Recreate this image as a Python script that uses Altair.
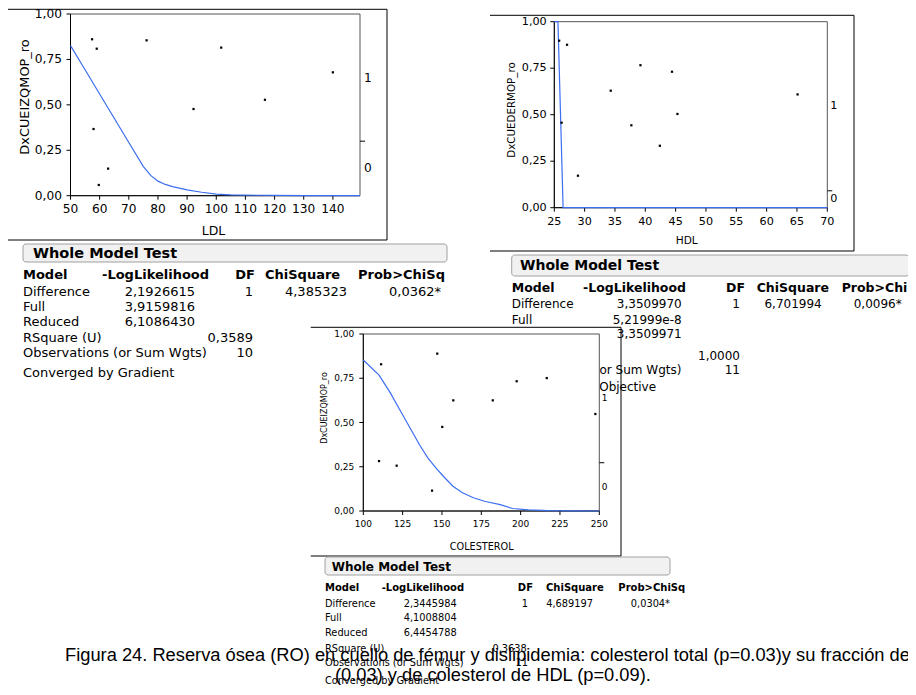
import altair as alt
import pandas as pd

# ---------------- data ----------------
# Panel 1: LDL vs DxCUEIZQMOP_ro
ldl_x = [57.4, 59.0, 57.9, 59.7, 62.9, 76.1, 92.2, 101.7, 116.7, 140.0]
ldl_y = [0.861, 0.809, 0.367, 0.059, 0.149, 0.855, 0.477, 0.815, 0.528, 0.679]
ldl_fit_x = [50, 55, 60, 65, 70, 75, 77.5, 80, 82.5, 85, 90, 95, 100, 105, 110, 120, 130, 149.3]
ldl_fit_y = [0.826, 0.693, 0.560, 0.426, 0.293, 0.160, 0.112, 0.080, 0.062, 0.050, 0.032,
             0.019, 0.009, 0.005, 0.003, 0.0015, 0.0005, 0.0]
ldl_counts = [3, 7]          # responses 0 / 1
ldl_xticks = [50, 60, 70, 80, 90, 100, 110, 120, 130, 140]

# Panel 2: HDL vs DxCUEDERMOP_ro
hdl_x = [25.8, 27.1, 26.2, 28.9, 34.3, 37.7, 39.2, 42.4, 44.4, 45.3, 65.1]
hdl_y = [0.898, 0.876, 0.457, 0.172, 0.629, 0.443, 0.766, 0.333, 0.731, 0.504, 0.609]
hdl_fit_x = [25, 25.6, 26.45, 70]
hdl_fit_y = [1.0, 1.0, 0.0, 0.0]
hdl_counts = [1, 10]
hdl_xticks = [25, 30, 35, 40, 45, 50, 55, 60, 65, 70]

# Panel 3: COLESTEROL vs DxCUEIZQMOP_ro
col_x = [111.3, 147.0, 110.0, 121.2, 143.7, 150.2, 157.2, 182.3, 197.5, 216.6, 247.5]
col_y = [0.829, 0.889, 0.282, 0.256, 0.115, 0.475, 0.625, 0.625, 0.733, 0.751, 0.548]
col_fit_x = [100, 110, 117, 123, 130, 136, 141, 146, 151, 157, 163, 170, 177, 187, 195, 205, 218, 235, 250]
col_fit_y = [0.853, 0.768, 0.670, 0.575, 0.465, 0.370, 0.300, 0.245, 0.195, 0.140, 0.103,
             0.075, 0.055, 0.036, 0.014, 0.006, 0.002, 0.0005, 0.0]
col_counts = [3, 8]
col_xticks = [100, 125, 150, 175, 200, 225, 250]

y_ticks = [0, 0.25, 0.5, 0.75, 1.0]

# Whole Model Test tables
head_cols = ["Model", "-LogLikelihood", "DF", "ChiSquare", "Prob>ChiSq"]
row_labels = ["Difference", "Full", "Reduced", "RSquare (U)", "Observations (or Sum Wgts)"]
tabA_ll = ["2,1926615", "3,9159816", "6,1086430"]
tabA_stats = ["1", "4,385323", "0,0362*", "0,3589", "10", "Converged by Gradient"]
tabB_ll = ["3,3509970", "5,21999e-8", "3,3509971"]
tabB_stats = ["1", "6,701994", "0,0096*", "1,0000", "11", "Converged by Objective"]
tabC_ll = ["2,3445984", "4,1008804", "6,4454788"]
tabC_stats = ["1", "4,689197", "0,0304*", "0,3638", "11", "Converged by Gradient"]
table_title = "Whole Model Test"

caption_1 = ("Figura 24. Reserva ósea (RO) en cuello de fémur y dislipidemia: colesterol total  "
             "(p=0.03)y su fracción de LDL")
caption_2 = "(0.03) y de colesterol de HDL (p=0.09)."

# ---------------- layout helpers ----------------
FONT = "DejaVu Sans"
BLUE = "#3b6ef0"
W, H = 900, 679
M = 8


def c(v):
    return v - M


blank = pd.DataFrame({"k": [0]})


def hline(x1, x2, y, color="black", w=1.0):
    return alt.Chart(blank).mark_rule(color=color, strokeWidth=w).encode(
        x=alt.value(c(x1)), x2=alt.value(c(x2)), y=alt.value(c(y)))


def vline(x, y1, y2, color="black", w=1.0):
    return alt.Chart(blank).mark_rule(color=color, strokeWidth=w).encode(
        x=alt.value(c(x)), y=alt.value(c(y1)), y2=alt.value(c(y2)))


def box(x1, x2, y1, y2, **kw):
    return alt.Chart(blank).mark_rect(**kw).encode(
        x=alt.value(c(x1)), x2=alt.value(c(x2)), y=alt.value(c(y1)), y2=alt.value(c(y2)))


def texts(items, align, size, bold=False, font=FONT, baseline="middle", angle=0):
    df = pd.DataFrame({"t": [i[0] for i in items],
                       "x": [c(i[1]) for i in items],
                       "y": [c(i[2]) for i in items]})
    return alt.Chart(df).mark_text(
        align=align, baseline=baseline, font=font, fontSize=size, angle=angle,
        fontWeight="bold" if bold else "normal", color="black").encode(
        x=alt.X("x:Q", scale=None, axis=None),
        y=alt.Y("y:Q", scale=None, axis=None),
        text="t:N")


def panel(px_, py_, fx, fy, counts, xdom, xticks, frame, xtitle, ytitle,
          xt_pos, yt_pos, lab_fs, xt_fs, yt_fs, r_dx, xlab_dy, ylab_dx, tick=4):
    L, R, T, B = [c(v) for v in frame]
    xsc = alt.Scale(domain=xdom, range=[L, R], nice=False, zero=False)
    ysc = alt.Scale(domain=[0, 1], range=[B, T], nice=False, zero=False)
    X0 = alt.XDatum(xdom[0], scale=xsc, axis=None)
    X1 = alt.XDatum(xdom[1], scale=xsc, axis=None)
    Y0 = alt.YDatum(0, scale=ysc, axis=None)

    pts = pd.DataFrame({"x": px_, "y": py_})
    fit = pd.DataFrame({"x": fx, "y": fy})
    xt = pd.DataFrame({"v": xticks, "t": [str(v) for v in xticks]})
    yt = pd.DataFrame({"v": y_ticks, "t": [f"{v:.2f}".replace(".", ",") for v in y_ticks]})
    p0 = counts[0] / (counts[0] + counts[1])
    rlab = pd.DataFrame({"p": [p0 / 2, (p0 + 1) / 2], "t": ["0", "1"]})
    rtick = pd.DataFrame({"p": [p0]})

    frame_l = alt.Chart(blank).mark_rect(fill="white", stroke="#555555", strokeWidth=1).encode(
        x=X0, x2=alt.X2Datum(xdom[1]), y=Y0, y2=alt.Y2Datum(1))
    xaxis_line = alt.Chart(blank).mark_rule(color="black").encode(
        x=X0, x2=alt.X2Datum(xdom[1]), y=Y0)
    yaxis_line = alt.Chart(blank).mark_rule(color="black").encode(
        x=X0, y=Y0, y2=alt.Y2Datum(1))
    xtick_l = alt.Chart(xt).mark_rule(color="black", y2Offset=tick).encode(
        x=alt.X("v:Q", scale=xsc, axis=None), y=Y0, y2=alt.Y2Datum(0))
    xlab_l = alt.Chart(xt).mark_text(baseline="middle", align="center", dy=xlab_dy, font=FONT,
                                     fontSize=lab_fs, color="black").encode(
        x=alt.X("v:Q", scale=xsc, axis=None), y=Y0, text="t:N")
    ytick_l = alt.Chart(yt).mark_rule(color="black", x2Offset=-tick).encode(
        x=X0, x2=alt.X2Datum(xdom[0]), y=alt.Y("v:Q", scale=ysc, axis=None))
    ylab_l = alt.Chart(yt).mark_text(baseline="middle", align="right", dx=ylab_dx, font=FONT,
                                     fontSize=lab_fs, color="black").encode(
        x=X0, y=alt.Y("v:Q", scale=ysc, axis=None), text="t:N")
    fit_l = alt.Chart(fit).mark_line(color=BLUE, strokeWidth=1.2).encode(
        x=alt.X("x:Q", scale=xsc, axis=None), y=alt.Y("y:Q", scale=ysc, axis=None))
    pts_l = alt.Chart(pts).mark_square(size=5, color="black", opacity=1).encode(
        x=alt.X("x:Q", scale=xsc, axis=None), y=alt.Y("y:Q", scale=ysc, axis=None))
    rtick_l = alt.Chart(rtick).mark_rule(color="black", x2Offset=5).encode(
        x=X1, x2=alt.X2Datum(xdom[1]), y=alt.Y("p:Q", scale=ysc, axis=None))
    rlab_l = alt.Chart(rlab).mark_text(align="left", baseline="middle", dx=r_dx, font=FONT,
                                       fontSize=lab_fs, color="black").encode(
        x=X1, y=alt.Y("p:Q", scale=ysc, axis=None), text="t:N")
    inner = alt.layer(frame_l, xaxis_line, yaxis_line, xtick_l, xlab_l, ytick_l, ylab_l,
                      fit_l, pts_l, rtick_l, rlab_l)
    titles = [texts([(xtitle, xt_pos[0], xt_pos[1])], "center", xt_fs),
              texts([(ytitle, yt_pos[0], yt_pos[1])], "center", yt_fs, angle=270)]
    return [inner] + titles


def table(ll, stats, lay, fs, hfs, tfs):
    hb = lay["hb"]
    layers = [box(hb[0], hb[1], hb[2], hb[3], fill="#f1f1f1", stroke="#a0a0a0",
                  strokeWidth=1, cornerRadius=3)]
    layers.append(texts([(table_title, lay["title"][0], lay["title"][1])], "left", tfs, bold=True))
    hy = lay["head_y"]
    layers.append(texts([(head_cols[0], lay["lx"], hy), (head_cols[1], lay["ll_h"], hy),
                         (head_cols[3], lay["chi_h"], hy), (head_cols[4], lay["p_h"], hy)],
                        "left", hfs, bold=True))
    layers.append(texts([(head_cols[2], lay["df_h"], hy)], "right", hfs, bold=True))
    ry = lay["rows"]
    left_items = [(row_labels[i], lay["lx"], ry[i]) for i in range(5)]
    left_items.append((stats[5], lay["lx"], ry[5]))
    layers.append(texts(left_items, "left", fs))
    right_items = [(ll[i], lay["ll_r"], ry[i]) for i in range(3)]
    right_items += [(stats[0], lay["df_r"], ry[0]), (stats[1], lay["chi_r"], ry[0]),
                    (stats[2], lay["p_r"], ry[0]), (stats[3], lay["rsq_r"], ry[3]),
                    (stats[4], lay["df_r"], ry[4])]
    layers.append(texts(right_items, "right", fs))
    return layers


layA = dict(hb=(23, 447, 244, 262), title=(33, 253.5), head_y=275, lx=23, ll_h=102,
            df_h=255, chi_h=265, p_h=358, rows=[291.7, 306.7, 321.7, 338.3, 353.3, 372.7],
            ll_r=195, df_r=253, chi_r=347, p_r=441, rsq_r=253)
layB = dict(hb=(511.7, 909, 255, 276), title=(520, 265.5), head_y=288.3, lx=511.7, ll_h=583,
            df_h=745, chi_h=756.7, p_h=841.7, rows=[304.3, 320, 334, 356, 370, 386.7],
            ll_r=681.7, df_r=740, chi_r=821.7, p_r=901.7, rsq_r=740)
layC = dict(hb=(325, 670, 557, 575), title=(331.7, 566.5), head_y=588.3, lx=325, ll_h=381.7,
            df_h=533, chi_h=546, p_h=618.3, rows=[604.3, 618.3, 632.7, 648.5, 663, 681],
            ll_r=456.7, df_r=528, chi_r=593, p_r=670, rsq_r=526.7)

layers = []
# panel boxes A and B
layers += [hline(0, 387, 9.3), vline(387, 9.3, 240), hline(0, 387, 240)]
layers += [hline(490, 854, 15.3), vline(854, 15.3, 251), hline(490, 854, 251)]
# tables A and B
layers += table(tabA_ll, tabA_stats, layA, 13, 13, 14.5)
layers += table(tabB_ll, tabB_stats, layB, 12, 12.5, 14)
# panel C box (covers table B)
layers += [box(310.7, 599.3, 327.3, 556, fill="white"),
           hline(310.7, 621, 327.3), vline(621, 327.3, 556), hline(310.7, 621, 556)]
# the three plots
layers += panel(ldl_x, ldl_y, ldl_fit_x, ldl_fit_y, ldl_counts, [50, 149.3], ldl_xticks,
                (70.5, 360, 14, 195.7), "LDL", "DxCUEIZQMOP_ro",
                (213.5, 231), (25, 97), 12.2, 12.5, 12.9, 4, 13.6, -8.5)
layers += panel(hdl_x, hdl_y, hdl_fit_x, hdl_fit_y, hdl_counts, [25, 70], hdl_xticks,
                (554.3, 827.3, 21.7, 207.7), "HDL", "DxCUEDERMOP_ro",
                (686.7, 241), (511.7, 110), 11.2, 10.6, 10.3, 3, 14, -7.6)
layers += panel(col_x, col_y, col_fit_x, col_fit_y, col_counts, [100, 250], col_xticks,
                (363.3, 599.3, 334, 511), "COLESTEROL", "DxCUEIZQMOP_ro",
                (481.7, 546.7), (325, 408), 9, 9.7, 8, 2.5, 13, -9)
# table C
layers += table(tabC_ll, tabC_stats, layC, 9.8, 10, 12)
# caption
layers.append(texts([(caption_1, 65, 661), (caption_2, 335, 681)], "left", 18.3,
                    font="Liberation Sans", baseline="alphabetic"))

chart = alt.layer(*layers).resolve_scale(x="independent", y="independent").properties(
    width=W, height=H, padding=0, autosize=alt.AutoSizeParams(type="none"),
    background="white",
).configure_view(stroke=None)

chart.save("out.html", embed_options={"renderer": "svg", "actions": False})
